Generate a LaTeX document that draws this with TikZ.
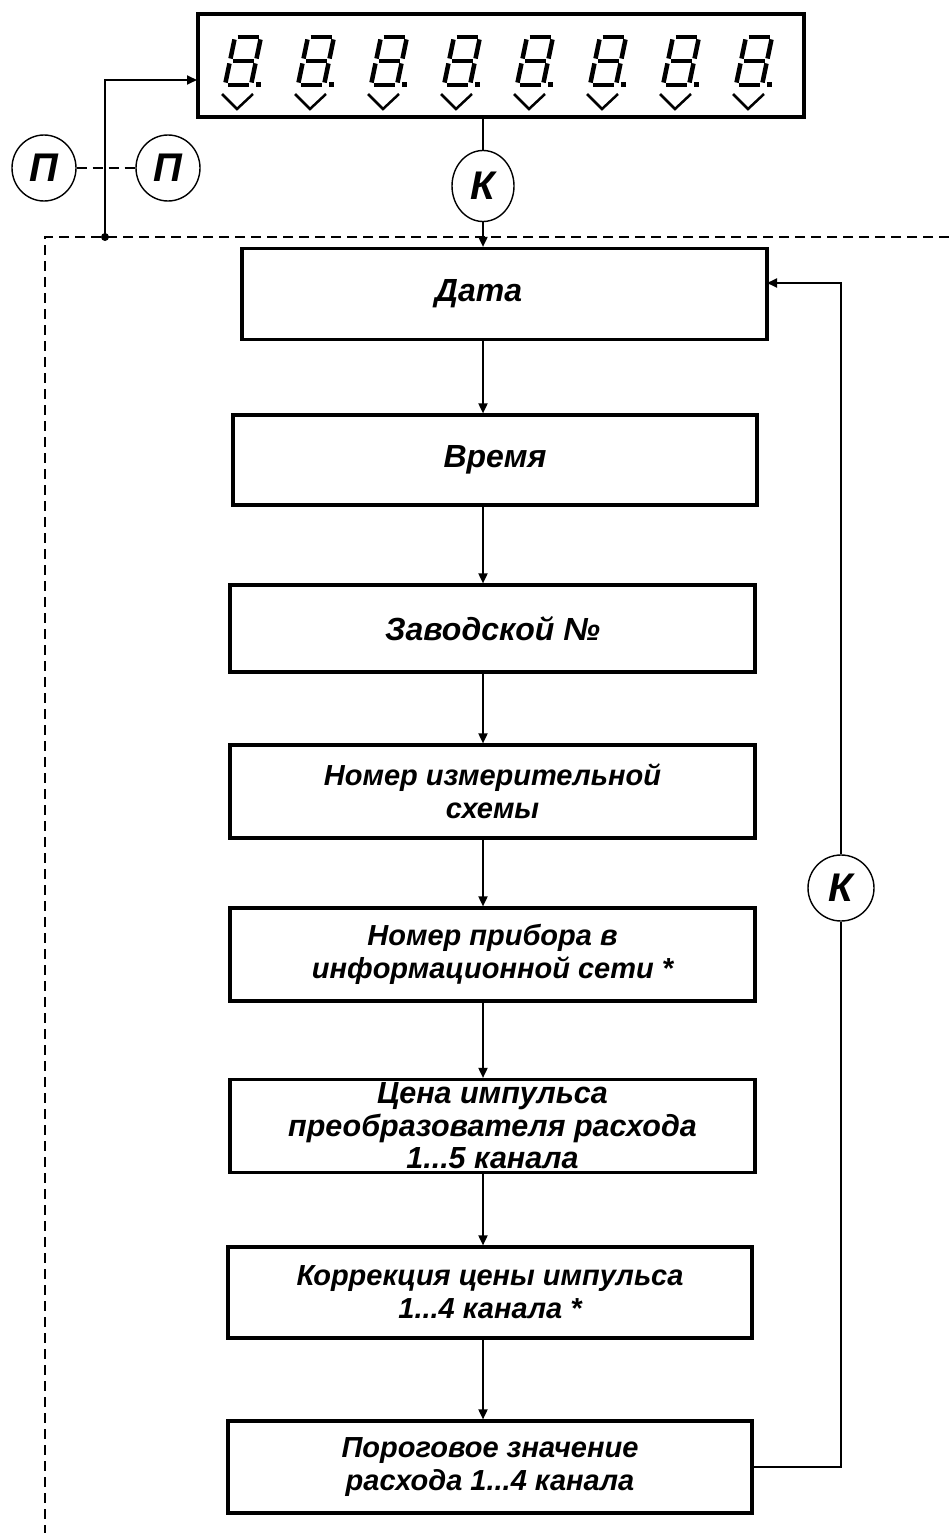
\documentclass[tikz,border=0pt]{standalone}
\usepackage{fontspec}
\setmainfont{Liberation Sans}
\usetikzlibrary{arrows.meta,shapes.geometric}
\begin{document}
\begin{tikzpicture}[x=1pt,y=-1pt,
  box/.style={draw,line width=3.2pt,inner sep=0pt,align=center,
    font=\fontsize{29}{33}\selectfont\bfseries\itshape},
  bigbox/.style={box,font=\fontsize{32}{36}\selectfont\bfseries\itshape},
  circ/.style={draw,ellipse,line width=1.4pt,inner sep=0pt,
    font=\fontsize{40}{40}\selectfont\bfseries\itshape},
  conn/.style={line width=1.8pt},
  arr/.style={conn,-{Triangle[length=10pt,width=9pt]}},
  dsh/.style={line width=1.8pt,dash pattern=on 10pt off 6pt},
  seg/.style={line width=4.5pt,shorten >=2.5pt,shorten <=2.5pt}
]
\useasboundingbox (0,0) rectangle (949,1533);

% display
\node[draw,line width=4pt,minimum width=606pt,minimum height=103pt,inner sep=0pt] (disp) at (501,65.5) {};
\foreach \i in {0,...,7}{
  \pgfmathsetmacro\bx{225+73*\i}
  \coordinate (BL) at ({\bx},85);
  \coordinate (BR) at ({\bx+26},85);
  \coordinate (ML) at ({\bx+5},61);
  \coordinate (MR) at ({\bx+31},61);
  \coordinate (TL) at ({\bx+10},37);
  \coordinate (TR) at ({\bx+36},37);
  \draw[seg] (TL) -- (TR);
  \draw[seg] (TL) -- (ML);
  \draw[seg] (TR) -- (MR);
  \draw[seg] (ML) -- (MR);
  \draw[seg] (ML) -- (BL);
  \draw[seg] (MR) -- (BR);
  \draw[seg] (BL) -- (BR);
  \fill ({\bx+31},82) rectangle ++(5,5);
  \draw[line width=2.5pt] ({\bx-3},94) -- ({\bx+12},109) -- ({\bx+28},94);
}

% circles
\node[circ,minimum width=64pt,minimum height=66pt] (p1) at (44,168) {П};
\node[circ,minimum width=64pt,minimum height=66pt] (p2) at (168,168) {П};
\node[circ,minimum width=62pt,minimum height=71pt] (kt) at (483,186) {К};
\node[circ,minimum width=66pt,minimum height=66pt] (kr) at (841,888) {К};

% boxes
\node[bigbox,minimum width=525pt,minimum height=91pt] (dat) at (504.5,294) {Дата\hspace{52pt}};
\node[bigbox,minimum width=524pt,minimum height=90pt] (vr) at (495,460) {Время};
\node[bigbox,minimum width=525pt,minimum height=87pt] (zav) at (492.5,628.5) {Заводской №};
\node[box,minimum width=525pt,minimum height=93pt] (nom) at (492.5,791.5) {Номер измерительной\\схемы};
\node[box,minimum width=525pt,minimum height=93pt] (pri) at (492.5,954.5) {Номер прибора в\\информационной сети *};
\node[box,minimum width=525pt,minimum height=93pt,font=\fontsize{30.5}{32.5}\selectfont\bfseries\itshape] (cen) at (492.5,1126) {Цена импульса\\преобразователя расхода\\1...5 канала};
\node[box,minimum width=524pt,minimum height=91pt] (kor) at (490,1292.5) {Коррекция цены импульса\\1...4 канала *};
\node[box,minimum width=524pt,minimum height=92pt] (por) at (490,1467) {Пороговое значение\\расхода 1...4 канала};

% dashed frame
\coordinate (dl) at (45,237);
\coordinate (dr) at (949,237);
\coordinate (db) at (45,1533);
\coordinate (dot) at (105,237);
\draw[dsh] (dr) -- (dl) -- (db);
\fill (dot) circle (4pt);

% left input
\coordinate (din) at (197,80);
\draw[arr] (dot) |- (din);
\draw[dsh] (p1.east) -- (p2.west);

% top K
\draw[conn] (kt.north |- disp.south) -- (kt.north);
\draw[arr] (kt.south) -- (kt.south |- dat.north);

% chain
\draw[arr] (dat.south -| kt.south) -- (vr.north -| kt.south);
\draw[arr] (vr.south -| kt.south) -- (zav.north -| kt.south);
\draw[arr] (zav.south -| kt.south) -- (nom.north -| kt.south);
\draw[arr] (nom.south -| kt.south) -- (pri.north -| kt.south);
\draw[arr] (pri.south -| kt.south) -- (cen.north -| kt.south);
\draw[arr] (cen.south -| kt.south) -- (kor.north -| kt.south);
\draw[arr] (kor.south -| kt.south) -- (por.north -| kt.south);

% feedback
\coordinate (fb) at (767,283);
\draw[conn] (por.east) -| (kr.south);
\draw[arr] (kr.north) |- (fb);
\end{tikzpicture}
\end{document}
